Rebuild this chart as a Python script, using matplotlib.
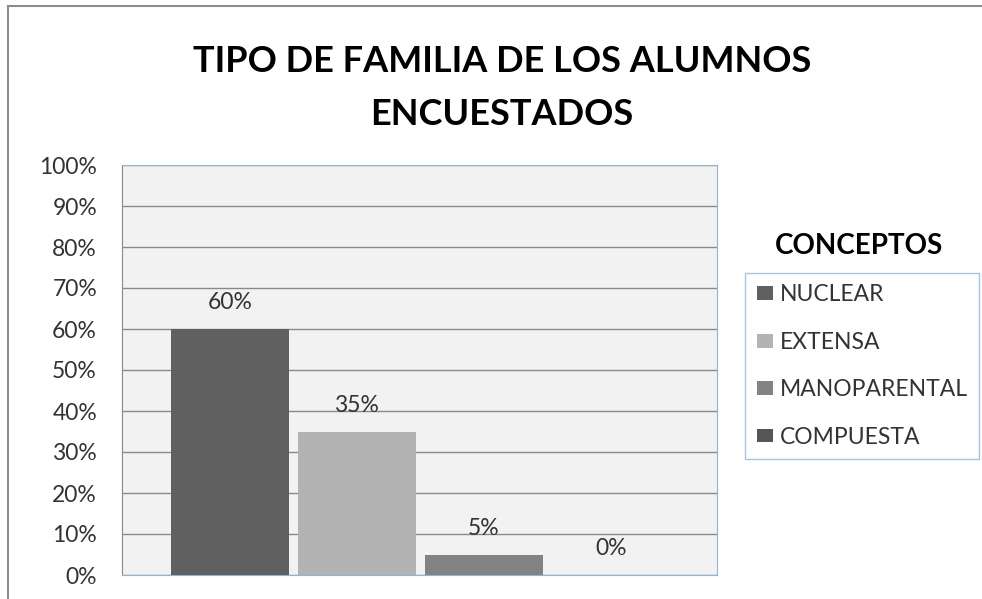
import matplotlib.pyplot as plt
from matplotlib.lines import Line2D
from matplotlib.patches import Patch

conceptos = ['NUCLEAR', 'EXTENSA', 'MANOPARENTAL', 'COMPUESTA']
porcentajes = [60, 35, 5, 0]
colores = ['#606060', '#b3b3b3', '#838383', '#555555']
yticks = [0, 10, 20, 30, 40, 50, 60, 70, 80, 90, 100]

plt.rcParams['font.family'] = ['Lato', 'DejaVu Sans']

fig = plt.figure(figsize=(9.82, 5.99), dpi=100)
fig.patch.set_facecolor('white')

# outer chart border (only top and left edges show in the reference)
W, H = 982, 599
fig.lines.append(Line2D([8 / W, 8 / W], [0, 1 - 6 / H], transform=fig.transFigure,
                        color='#8c8c8c', linewidth=1.5))
fig.lines.append(Line2D([8 / W, 1], [1 - 6 / H, 1 - 6 / H], transform=fig.transFigure,
                        color='#8c8c8c', linewidth=1.5))

ax = fig.add_axes([122 / W, 24 / H, 595 / W, 410 / H])
ax.set_facecolor('#f2f2f2')

x = list(range(len(conceptos)))
ax.bar(x, porcentajes, width=0.93, color=colores, zorder=3)

for xi, v in zip(x, porcentajes):
    ax.annotate(f'{v}%', (xi, v), xytext=(0, 19), textcoords='offset points',
                ha='center', va='center', fontsize=16.5, color='#333333')

ax.set_ylim(0, 100)
ax.set_xlim(-0.85, 3.835)
ax.set_yticks(yticks)
ax.set_yticklabels([f'{t}%' for t in yticks], fontsize=16.5, color='#333333')
ax.set_xticks([])
ax.tick_params(axis='y', length=0, pad=18)
ax.yaxis.grid(True, color='#8a8a8a', linewidth=1, zorder=1)
ax.set_axisbelow(True)

for side in ['top', 'right', 'bottom']:
    ax.spines[side].set_color('#95b3d7')
ax.spines['left'].set_color('#8a8a8a')

fig.text(502 / W, 1 - 88 / H, 'TIPO DE FAMILIA DE LOS ALUMNOS\nENCUESTADOS',
         ha='center', va='center', fontsize=26, fontweight='bold',
         linespacing=1.72, color='black')

fig.text(859 / W, 1 - 246 / H, 'CONCEPTOS', ha='center', va='center',
         fontsize=20, fontweight='bold', color='black')

handles = [Patch(facecolor=c, edgecolor='none') for c in colores]
leg = fig.legend(handles, conceptos, loc='center',
                 bbox_to_anchor=(862 / W, 1 - 366 / H),
                 fontsize=16.5, frameon=True, fancybox=False,
                 handlelength=0.7, handleheight=0.55, handletextpad=0.3,
                 labelspacing=1.15, borderpad=0.5, borderaxespad=0)
leg.get_frame().set_edgecolor('#95b3d7')
leg.get_frame().set_linewidth(1)
for t in leg.get_texts():
    t.set_color('#333333')

fig.savefig('out.png', dpi=100)
